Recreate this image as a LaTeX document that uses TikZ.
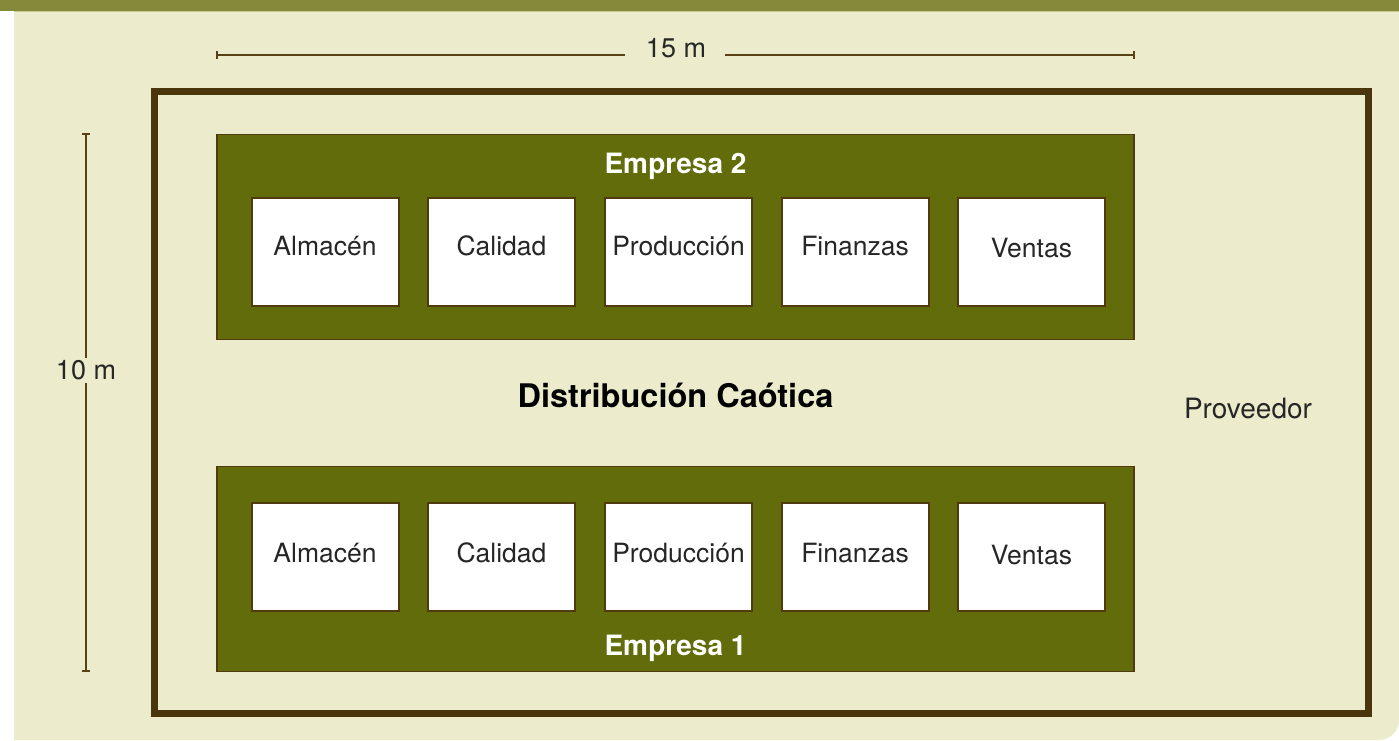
\documentclass[tikz,border=0pt]{standalone}
\usepackage{fontspec}
\setmainfont{TeX Gyre Heros}
\definecolor{band}{RGB}{133,138,58}
\definecolor{bandedge}{RGB}{200,200,150}
\definecolor{cream}{RGB}{236,236,204}
\definecolor{dgreen}{RGB}{99,108,10}
\definecolor{frame}{RGB}{74,53,13}
\definecolor{dimc}{RGB}{90,64,22}
\definecolor{boxedge}{RGB}{80,58,16}
\tikzset{
  x=1pt,y=-1pt,
  dept/.style={draw=boxedge,line width=2pt,fill=white,minimum width=147pt,minimum height=108pt,inner sep=0pt},
  deptlabel/.style={font=\fontsize{26.5}{30}\selectfont,text=black!85,inner sep=0pt,anchor=base},
  company/.style={draw=boxedge,line width=1.3pt,fill=dgreen,minimum width=917pt,inner sep=0pt},
  ctitle/.style={text=white,font=\bfseries\fontsize{28}{32}\selectfont,inner sep=0pt,anchor=base},
  dimline/.style={draw=dimc,line width=1.5pt},
  dimlabel/.style={font=\fontsize{27}{31}\selectfont,text=black!85,inner sep=0pt,anchor=base},
}
\begin{document}
\begin{tikzpicture}
\useasboundingbox (0,0) rectangle (1399,740);
% background
\fill[white] (0,0) rectangle (1399,740);
\fill[cream] (14,11) -- (1399,11) -- (1399,720) .. controls (1399,731) and (1390,740) .. (1379,740) -- (14,740) -- cycle;
\fill[band] (0,0) rectangle (1399,11);
\draw[bandedge,line width=1pt] (14,11.5) -- (1399,11.5);
% outer frame
\draw[frame,line width=7pt] (154.5,91.5) rectangle (1368.5,713.5);
% companies
\node[company,minimum height=205pt] (e2) at (675.5,237) {};
\node[company,minimum height=205pt] (e1) at (675.5,569) {};
\node[ctitle] (t2) at (675.5,173.5) {Empresa 2};
\node[ctitle] (t1) at (675.5,655) {Empresa 1};
% departments, top row
\node[dept] (a2) at (325,251.5) {};
\node[dept] (c2) at (501.5,251.5) {};
\node[dept] (p2) at (678.5,251.5) {};
\node[dept] (f2) at (855,251.5) {};
\node[dept] (v2) at (1031.5,251.5) {};
\node[deptlabel] (la2) at ([yshift=-4]a2.center) {Almacén};
\node[deptlabel] (lc2) at ([yshift=-4]c2.center) {Calidad};
\node[deptlabel] (lp2) at ([yshift=-4]p2.center) {Producción};
\node[deptlabel] (lf2) at ([yshift=-4]f2.center) {Finanzas};
\node[deptlabel] (lv2) at ([yshift=-5.5]v2.center) {Ventas};
% departments, bottom row
\node[dept] (a1) at (325,557) {};
\node[dept] (c1) at (501.5,557) {};
\node[dept] (p1) at (678.5,557) {};
\node[dept] (f1) at (855,557) {};
\node[dept] (v1) at (1031.5,557) {};
\node[deptlabel] (la1) at ([yshift=-5.5]a1.center) {Almacén};
\node[deptlabel] (lc1) at ([yshift=-5.5]c1.center) {Calidad};
\node[deptlabel] (lp1) at ([yshift=-5.5]p1.center) {Producción};
\node[deptlabel] (lf1) at ([yshift=-5.5]f1.center) {Finanzas};
\node[deptlabel] (lv1) at ([yshift=-7]v1.center) {Ventas};
% central title and supplier
\node[font=\bfseries\fontsize{32.5}{38}\selectfont,inner sep=0pt,anchor=base] (dc) at (675.5,407) {Distribución Caótica};
\node[font=\fontsize{28}{32}\selectfont,text=black!85,inner sep=0pt,anchor=base] (prov) at (1248,418) {Proveedor};
% horizontal dimension
\coordinate (h1) at (217,55);
\coordinate (h2) at (1134,55);
\coordinate (h1e) at (625,55);
\coordinate (h2s) at (725,55);
\node[dimlabel] (w) at (676,57) {15 m};
\draw[dimline] (h1) -- (h1e);
\draw[dimline] (h2s) -- (h2);
\draw[dimline] ([yshift=-4]h1) -- ([yshift=4]h1);
\draw[dimline] ([yshift=-4]h2) -- ([yshift=4]h2);
% vertical dimension
\coordinate (v1t) at (86,134);
\coordinate (v1b) at (86,671);
\coordinate (v1m) at (86,358);
\coordinate (v2m) at (86,383);
\node[dimlabel] (hgt) at (86,379) {10 m};
\draw[dimline] (v1t) -- (v1m);
\draw[dimline] (v2m) -- (v1b);
\draw[dimline] ([xshift=-4]v1t) -- ([xshift=4]v1t);
\draw[dimline] ([xshift=-4]v1b) -- ([xshift=4]v1b);
\end{tikzpicture}
\end{document}
